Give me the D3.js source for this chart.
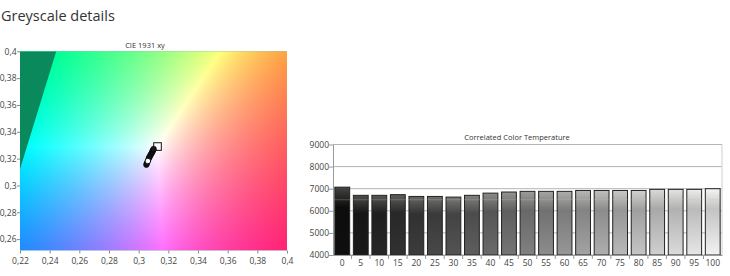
<!DOCTYPE html>
<html>
<head>
<meta charset="utf-8">
<script src="https://cdn.jsdelivr.net/npm/d3@7"></script>
<style>
  body { margin: 0; background: #fff; }
  text { font-family: "Open Sans", sans-serif; }
</style>
</head>
<body>
<script>
// CIE 1931 xy panel
const cieXTicks = [0.22, 0.24, 0.26, 0.28, 0.30, 0.32, 0.34, 0.36, 0.38, 0.40];
const cieYTicks = [0.26, 0.28, 0.30, 0.32, 0.34, 0.36, 0.38, 0.40];
const measuredX = [0.3052, 0.3056, 0.3068, 0.3072, 0.3078, 0.3084, 0.3090, 0.3094, 0.3098, 0.3101];
const measuredY = [0.3155, 0.3166, 0.3200, 0.3210, 0.3222, 0.3234, 0.3246, 0.3255, 0.3265, 0.3272];
const whitePoint = [0.3062, 0.3182];
const targetPoint = [0.3127, 0.3290];
const rec709 = [[0.64, 0.33], [0.30, 0.60], [0.15, 0.06]];

// Correlated colour temperature panel
const levels = ["0", "5", "10", "15", "20", "25", "30", "35", "40", "45", "50",
                "55", "60", "65", "70", "75", "80", "85", "90", "95", "100"];
const cct = [7070, 6700, 6700, 6730, 6650, 6650, 6620, 6700, 6800, 6850, 6880,
             6880, 6880, 6920, 6920, 6920, 6920, 6970, 6970, 6970, 7000];
const cctTicks = [4000, 5000, 6000, 7000, 8000, 9000];
const cctTarget = 6500;

const svg = d3.select("body").append("svg")
  .attr("width", 730)
  .attr("height", 276);

svg.append("text")
  .attr("x", 1)
  .attr("y", 21)
  .style("font-size", "14.5px")
  .attr("fill", "#333")
  .text("Greyscale details");

// ---------- CIE chart ----------
const comma = d3.formatLocale({decimal: ",", thousands: ".", grouping: [3], currency: ["", ""]}).format("~g");

const x = d3.scaleLinear().domain([0.22, 0.4]).range([20, 287]);
const y = d3.scaleLinear().domain([0.2515, 0.4]).range([250.5, 51.3]);

const px0 = x.range()[0], py0 = y.range()[1];
const cw = Math.round(x.range()[1] - px0), ch = Math.round(y.range()[0] - py0);

// colour field: xy -> linear sRGB, normalised to its brightest channel
const canvas = document.createElement("canvas");
canvas.width = cw;
canvas.height = ch;
const ctx = canvas.getContext("2d");
const img = ctx.createImageData(cw, ch);
for (let j = 0; j < ch; j++) {
  for (let i = 0; i < cw; i++) {
    const cx = x.invert(px0 + i + 0.5), cy = y.invert(py0 + j + 0.5);
    const X = cx / cy, Y = 1, Z = (1 - cx - cy) / cy;
    let r = Math.max(0, 3.2406 * X - 1.5372 * Y - 0.4986 * Z);
    let g = Math.max(0, -0.9689 * X + 1.8758 * Y + 0.0415 * Z);
    let b = Math.max(0, 0.0557 * X - 0.2040 * Y + 1.0570 * Z);
    const m = Math.max(r, g, b);
    const k = (j * cw + i) * 4;
    img.data[k] = 255 * r / m;
    img.data[k + 1] = 255 * g / m;
    img.data[k + 2] = 255 * b / m;
    img.data[k + 3] = 255;
  }
}
ctx.putImageData(img, 0, 0);

svg.append("defs").append("clipPath").attr("id", "cieClip")
  .append("rect")
  .attr("x", px0).attr("y", py0).attr("width", cw).attr("height", ch);

svg.append("image")
  .attr("x", px0).attr("y", py0)
  .attr("width", cw).attr("height", ch)
  .attr("preserveAspectRatio", "none")
  .attr("href", canvas.toDataURL());

// outside the Rec.709 gamut
const tri = rec709.map(p => [x(p[0]), y(p[1])]);
svg.append("path")
  .attr("clip-path", "url(#cieClip)")
  .attr("fill-rule", "evenodd")
  .attr("fill", "#0a8a5c")
  .attr("d", `M${px0},${py0}h${cw}v${ch}h${-cw}Z` + "M" + tri.join("L") + "Z");

svg.append("g")
  .attr("transform", "translate(0," + y.range()[0] + ")")
  .call(d3.axisBottom(x).tickValues(cieXTicks).tickFormat(comma).tickSize(3).tickSizeOuter(0))
  .call(g => g.select(".domain").remove())
  .call(g => g.selectAll("line").attr("stroke", "#888"))
  .call(g => g.selectAll("text").attr("fill", "#444").style("font-size", "8.5px").attr("dy", "0.9em"));

svg.append("g")
  .attr("transform", "translate(" + px0 + ",0)")
  .call(d3.axisLeft(y).tickValues(cieYTicks).tickFormat(comma).tickSize(3).tickSizeOuter(0))
  .call(g => g.select(".domain").remove())
  .call(g => g.selectAll("line").attr("stroke", "#888"))
  .call(g => g.selectAll("text").attr("fill", "#444").style("font-size", "8.5px").attr("x", -3.5));

svg.append("text")
  .attr("x", 145)
  .attr("y", 47.5)
  .attr("text-anchor", "middle")
  .style("font-size", "7.5px")
  .attr("fill", "#333")
  .text("CIE 1931 xy");

svg.append("rect")
  .attr("x", x(targetPoint[0]) - 3.8)
  .attr("y", y(targetPoint[1]) - 3.8)
  .attr("width", 7.6).attr("height", 7.6)
  .attr("fill", "#fff").attr("stroke", "#111").attr("stroke-width", 1);

svg.selectAll(".pt")
  .data(measuredX.map((v, i) => [v, measuredY[i]]))
  .enter().append("circle")
  .attr("class", "pt")
  .attr("cx", d => x(d[0]))
  .attr("cy", d => y(d[1]))
  .attr("r", 2.8)
  .attr("fill", "#1a1a1a")
  .attr("stroke", "#000")
  .attr("stroke-width", 0.6);

svg.append("circle")
  .attr("cx", x(whitePoint[0]))
  .attr("cy", y(whitePoint[1]))
  .attr("r", 2.8)
  .attr("fill", "#fff")
  .attr("stroke", "#111")
  .attr("stroke-width", 1);

// ---------- CCT bar chart ----------
const bx = d3.scaleBand().domain(levels).range([333, 722]).paddingInner(0.2).paddingOuter(0.1);
const by = d3.scaleLinear().domain([4000, 9000]).range([255, 144.5]);

svg.selectAll(".grid")
  .data(cctTicks)
  .enter().append("line")
  .attr("class", "grid")
  .attr("x1", 333).attr("x2", 722)
  .attr("y1", d => by(d)).attr("y2", d => by(d))
  .attr("stroke", "#b4b4b4");

svg.append("line")
  .attr("x1", 722).attr("x2", 722)
  .attr("y1", by(9000)).attr("y2", by(4000))
  .attr("stroke", "#cfcfcf");

const defs = svg.select("defs");
const grey = i => 15 + i * (242 - 15) / (levels.length - 1);

levels.forEach((d, i) => {
  const base = d3.rgb(grey(i), grey(i), grey(i));
  const grad = defs.append("linearGradient")
    .attr("id", "bar" + i)
    .attr("x1", 0).attr("x2", 0).attr("y1", 0).attr("y2", 1);
  grad.append("stop").attr("offset", "0%").attr("stop-color", d3.interpolateRgb(base, "#fff")(0.22));
  grad.append("stop").attr("offset", "30%").attr("stop-color", base.darker(0.6));
  grad.append("stop").attr("offset", "100%").attr("stop-color", base);
});

svg.selectAll(".bar")
  .data(cct)
  .enter().append("rect")
  .attr("class", "bar")
  .attr("x", (d, i) => bx(levels[i]))
  .attr("y", d => by(d))
  .attr("width", bx.bandwidth())
  .attr("height", d => by(4000) - by(d))
  .attr("fill", (d, i) => "url(#bar" + i + ")")
  .attr("stroke", "#222")
  .attr("stroke-width", 1);

svg.append("line")
  .attr("x1", 333).attr("x2", 722)
  .attr("y1", by(cctTarget)).attr("y2", by(cctTarget))
  .attr("stroke", "#d8b890")
  .attr("stroke-opacity", 0.3)
  .attr("stroke-width", 1.2);

svg.append("g")
  .attr("transform", "translate(333,0)")
  .call(d3.axisLeft(by).tickValues(cctTicks).tickFormat(d => d).tickSize(4).tickSizeOuter(0))
  .call(g => g.select(".domain").attr("stroke", "#999"))
  .call(g => g.selectAll("line").attr("stroke", "#999"))
  .call(g => g.selectAll("text").attr("fill", "#444").style("font-size", "8.5px").attr("x", -4));

const step = bx.step();
const xa = svg.append("g")
  .attr("transform", "translate(0," + by(4000) + ")")
  .call(d3.axisBottom(bx).tickSize(0))
  .call(g => g.select(".domain").attr("stroke", "#999"))
  .call(g => g.selectAll("text").attr("fill", "#444").style("font-size", "8.5px").attr("dy", "0.95em"));

xa.selectAll(".sep")
  .data(levels.slice(1))
  .enter().append("line")
  .attr("class", "sep")
  .attr("x1", d => bx(d) - (step - bx.bandwidth()) / 2)
  .attr("x2", d => bx(d) - (step - bx.bandwidth()) / 2)
  .attr("y1", 0).attr("y2", 4)
  .attr("stroke", "#999");

svg.append("text")
  .attr("x", 517)
  .attr("y", 140)
  .attr("text-anchor", "middle")
  .style("font-size", "7.5px")
  .attr("fill", "#333")
  .text("Correlated Color Temperature");
</script>
</body>
</html>
